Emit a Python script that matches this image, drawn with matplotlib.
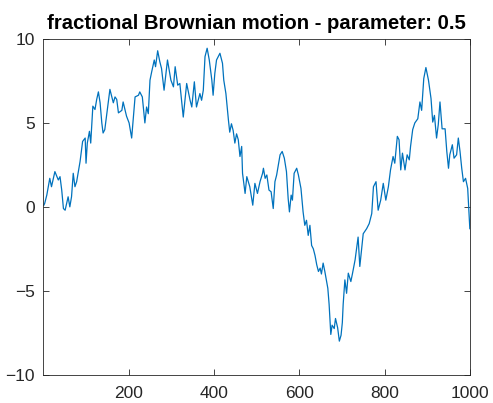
import numpy as np
import matplotlib.pyplot as plt

# sample index and value
steps = [1, 3, 8, 15, 19, 27, 35, 39, 43, 47, 51, 58, 62, 66, 70, 74, 78, 86, 92, 98,
         100, 103, 108, 111, 116, 121, 125, 129, 133, 137, 140, 144, 148, 156, 164, 168, 172, 176, 184, 187,
         195, 201, 207, 215, 223, 226, 232, 238, 242, 246, 250, 254, 260, 263, 268, 273, 277, 283, 291, 299,
         305, 309, 315, 320, 328, 336, 344, 348, 354, 359, 367, 371, 375, 379, 384, 389, 395, 398, 402, 406,
         414, 420, 423, 428, 434, 437, 441, 445, 449, 453, 457, 461, 465, 467, 473, 477, 484, 491, 496, 502,
         508, 514, 516, 520, 524, 529, 534, 539, 543, 547, 551, 555, 560, 565, 570, 574, 577, 581, 584, 588,
         594, 598, 604, 609, 613, 617, 621, 625, 629, 633, 637, 641, 645, 649, 652, 656, 660, 667, 670, 674,
         677, 682, 685, 690, 694, 698, 701, 703, 707, 711, 715, 721, 725, 731, 735, 738, 742, 746, 750, 758,
         764, 770, 774, 780, 785, 791, 797, 803, 809, 814, 820, 824, 830, 834, 838, 842, 848, 853, 858, 861,
         866, 871, 878, 883, 887, 892, 897, 903, 909, 913, 917, 922, 926, 930, 935, 942, 946, 950, 953, 959,
         963, 969, 973, 977, 981, 985, 990, 995, 1000]
fbm = [0.1, 0.2, 0.7, 1.7, 1.2, 2.1, 1.6, 1.8, 1.0, -0.1, -0.2, 0.6, 0.0, 0.6, 2.0, 1.2, 1.5, 2.7, 3.9, 4.1,
       2.6, 3.8, 4.5, 3.8, 6.0, 5.8, 6.4, 6.85, 6.2, 5.0, 4.4, 4.6, 5.4, 7.0, 6.2, 6.55, 6.4, 5.6, 5.75, 6.25,
       5.4, 5.0, 4.1, 6.55, 6.65, 6.85, 6.55, 5.0, 5.95, 5.55, 7.55, 8.05, 8.75, 8.35, 9.3, 8.65, 8.25, 6.95, 8.75, 7.55,
       7.15, 8.35, 7.25, 7.35, 5.35, 7.35, 6.35, 5.95, 7.45, 5.95, 6.75, 6.35, 6.95, 8.95, 9.45, 8.75, 7.55, 6.65, 7.95, 8.75,
       9.15, 8.55, 7.55, 6.75, 5.15, 4.45, 4.95, 4.55, 3.8, 4.35, 4.0, 3.0, 3.6, 2.0, 0.8, 1.8, 1.2, 0.1, 1.4, 0.8,
       1.5, 2.0, 2.3, 1.7, 1.9, 1.0, 0.9, -0.1, 1.5, 1.9, 2.5, 3.1, 3.3, 2.9, 2.1, 0.5, -0.3, 0.7, 0.4, 2.0,
       2.3, 1.9, 1.1, -0.3, -1.1, -0.8, -1.7, -1.1, -2.3, -2.5, -2.9, -3.45, -3.85, -3.65, -4.0, -3.35, -3.85, -4.85, -5.8, -7.6,
       -7.05, -7.25, -6.65, -7.2, -8.0, -7.65, -6.9, -5.8, -4.35, -5.15, -3.95, -4.45, -3.95, -3.15, -2.4, -1.8, -3.55, -2.55, -1.6, -1.3,
       -1.0, -0.4, 1.2, 1.5, -0.2, 0.4, 1.4, 0.4, 1.2, 2.2, 3.0, 2.6, 4.2, 4.0, 2.2, 3.2, 2.2, 3.1, 2.8, 3.6,
       4.6, 5.0, 5.25, 6.25, 5.75, 7.65, 8.3, 7.55, 6.45, 5.05, 5.45, 4.1, 4.9, 6.25, 4.65, 4.65, 3.3, 2.3, 3.1, 3.7,
       2.9, 3.1, 4.1, 3.3, 2.3, 1.5, 1.7, 1.1, -1.3]
xticks = [200, 400, 600, 800, 1000]
yticks = [-10, -5, 0, 5, 10]

plt.rcParams['font.family'] = ['Liberation Sans', 'DejaVu Sans']

fig = plt.figure(figsize=(4.93, 4.03), dpi=100)
ax = fig.add_axes([0.088, 0.0702, 0.865, 0.833])
ax.plot(steps, fbm, color=(0, 0.447, 0.741), linewidth=0.9)

ax.set_xlim(0, 1000)
ax.set_ylim(-10, 10)
ax.set_xticks(xticks)
ax.set_yticks(yticks)
ax.tick_params(direction='in', top=True, right=True, length=4, width=0.6,
               colors='#262626', labelsize=12.5)
ax.tick_params(axis='x', pad=8)
ax.tick_params(axis='y', pad=6)
for s in ax.spines.values():
    s.set_color('#262626')
    s.set_linewidth(0.6)

ax.set_title('fractional Brownian motion - parameter: 0.5', fontsize=14.6,
             fontweight='bold', pad=7)

fig.savefig('out.png', dpi=100)
